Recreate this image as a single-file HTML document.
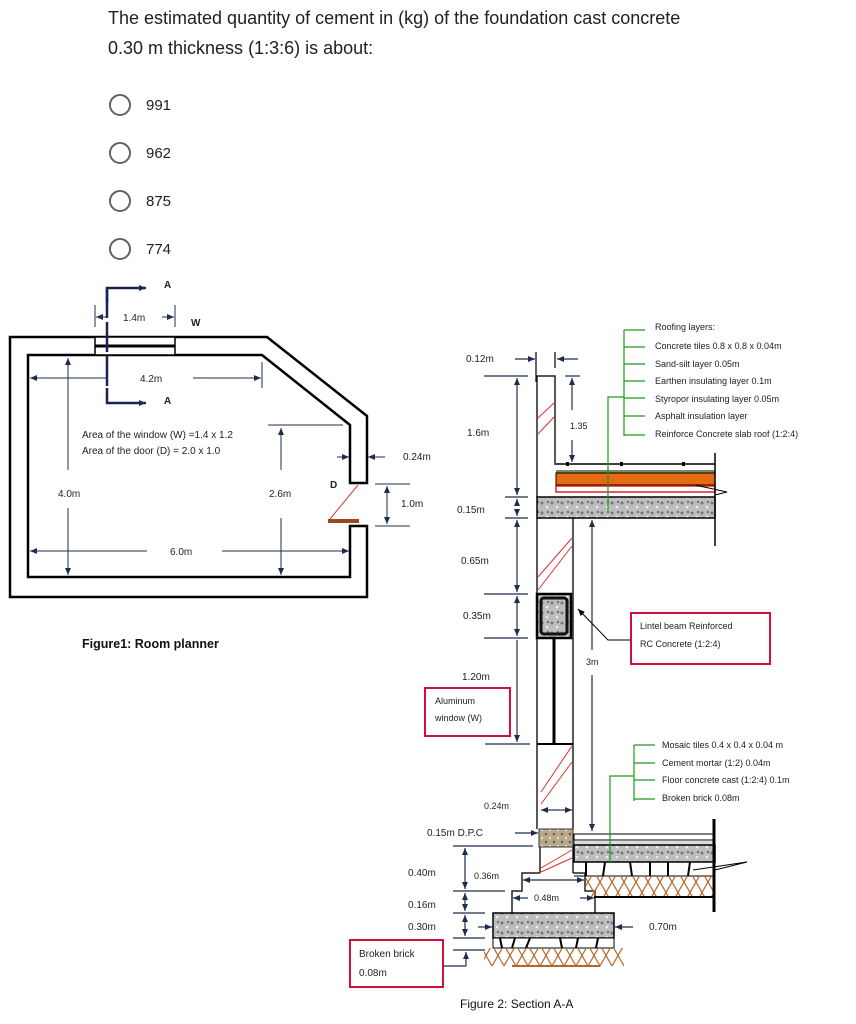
<!DOCTYPE html>
<html><head><meta charset="utf-8"><style>
body{margin:0;background:#fff;width:856px;height:1024px;overflow:hidden}
svg{display:block}
text{font-family:"Liberation Sans",sans-serif}
</style></head><body>
<svg width="856" height="1024" viewBox="0 0 856 1024" xmlns="http://www.w3.org/2000/svg">
<defs>
<marker id="ar" markerWidth="8" markerHeight="8" refX="7" refY="4" orient="auto" markerUnits="userSpaceOnUse"><path d="M0,1 L7,4 L0,7z" fill="#1f2d4d"/></marker>
<marker id="ab" markerWidth="8" markerHeight="8" refX="7" refY="4" orient="auto" markerUnits="userSpaceOnUse"><path d="M0,1 L7,4 L0,7z" fill="#000"/></marker>
<pattern id="gr" width="10" height="10" patternUnits="userSpaceOnUse"><rect width="10" height="10" fill="#bdbdbd"/><circle cx="2" cy="3" r="1.5" fill="#777"/><circle cx="7" cy="7" r="1.3" fill="#eee"/><circle cx="8" cy="2" r="1" fill="#555"/></pattern>
<pattern id="dpc" width="8" height="8" patternUnits="userSpaceOnUse"><rect width="8" height="8" fill="#b8a98c"/><circle cx="2" cy="2" r="1.3" fill="#6f6250"/><circle cx="6" cy="6" r="1.2" fill="#e4dccb"/></pattern>
<pattern id="earth" width="24" height="21" patternUnits="userSpaceOnUse"><path d="M0,21 L12,0 L24,21 M0,0 L12,21 L24,0" stroke="#b5652a" stroke-width="1.2" fill="none"/></pattern>
</defs>

<text x="108" y="24" font-size="18" fill="#202124">The estimated quantity of cement in (kg) of the foundation cast concrete</text>
<text x="108" y="54" font-size="18" fill="#202124">0.30 m thickness (1:3:6) is about:</text>
<g fill="none" stroke="#5f6368" stroke-width="2">
<circle cx="120" cy="105" r="10"/><circle cx="120" cy="153" r="10"/><circle cx="120" cy="201" r="10"/><circle cx="120" cy="249" r="10"/></g>
<g font-size="15" fill="#202124"><text x="146" y="110">991</text><text x="146" y="158">962</text><text x="146" y="206">875</text><text x="146" y="254">774</text></g>

<g stroke="#000" stroke-width="2.5" fill="none">
<path d="M367,483 L367,416 L267,337 L10,337 L10,597 L367,597 L367,526 L350,526 L350,577 L28,577 L28,355 L262,355 L350,425 L350,483 Z"/>
</g>
<rect x="95" y="337" width="80" height="18" fill="#fff" stroke="#000" stroke-width="1.5"/>
<line x1="95" y1="346" x2="175" y2="346" stroke="#000" stroke-width="3"/>
<line x1="107" y1="288" x2="107" y2="388" stroke="#1a2350" stroke-width="2.5" stroke-dasharray="30,4"/>
<path d="M107,303 L107,288 L146,288" stroke="#1a2350" stroke-width="2.5" fill="none" marker-end="url(#ar)"/>
<path d="M107,388 L107,403 L146,403" stroke="#1a2350" stroke-width="2.5" fill="none" marker-end="url(#ar)"/>
<g font-size="10" fill="#222" font-weight="bold"><text x="164" y="288">A</text><text x="164" y="404">A</text><text x="191" y="326">W</text><text x="330" y="488">D</text></g>
<g stroke="#1f2d4d" stroke-width="1" fill="none">
<line x1="95" y1="305" x2="95" y2="327"/><line x1="175" y1="305" x2="175" y2="327"/>
<line x1="108" y1="317" x2="96" y2="317" marker-end="url(#ar)"/><line x1="162" y1="317" x2="174" y2="317" marker-end="url(#ar)"/>
<line x1="108" y1="378" x2="30" y2="378" marker-end="url(#ar)"/><line x1="193" y1="378" x2="261" y2="378" marker-end="url(#ar)"/>
<line x1="262" y1="362" x2="262" y2="388"/>
<line x1="68" y1="470" x2="68" y2="358" marker-end="url(#ar)"/><line x1="68" y1="508" x2="68" y2="575" marker-end="url(#ar)"/>
<line x1="268" y1="425" x2="343" y2="425"/>
<line x1="281" y1="470" x2="281" y2="428" marker-end="url(#ar)"/><line x1="281" y1="518" x2="281" y2="575" marker-end="url(#ar)"/>
<line x1="147" y1="551" x2="30" y2="551" marker-end="url(#ar)"/><line x1="222" y1="551" x2="349" y2="551" marker-end="url(#ar)"/>
<line x1="337" y1="457" x2="349" y2="457" marker-end="url(#ar)"/><line x1="385" y1="457" x2="368" y2="457" marker-end="url(#ar)"/>
<line x1="375" y1="484" x2="410" y2="484"/><line x1="375" y1="526" x2="410" y2="526"/>
<line x1="387" y1="505" x2="387" y2="486" marker-end="url(#ar)"/><line x1="387" y1="505" x2="387" y2="524" marker-end="url(#ar)"/>
</g>
<line x1="358" y1="485" x2="330" y2="519" stroke="#d33" stroke-width="1"/>
<rect x="328" y="519" width="31" height="4" fill="#a0461c"/>
<g font-size="10" fill="#222">
<text x="123" y="321">1.4m</text><text x="140" y="382">4.2m</text>
<text x="82" y="438">Area of the window (W) =1.4 x 1.2</text><text x="82" y="454">Area of the door (D) = 2.0 x 1.0</text>
<text x="58" y="497">4.0m</text><text x="269" y="497">2.6m</text><text x="170" y="555">6.0m</text>
<text x="403" y="460">0.24m</text><text x="401" y="507">1.0m</text></g>
<text x="82" y="648" font-size="12.5" fill="#111" font-weight="bold">Figure1: Room planner</text>

<g stroke="#222" stroke-width="1.5" fill="none">
<path d="M537,497 L537,376 L555,376 L555,465"/>
<line x1="537" y1="518" x2="537" y2="829"/><line x1="573" y1="518" x2="573" y2="829"/>
<line x1="540" y1="847" x2="540" y2="873"/><line x1="573" y1="847" x2="573" y2="873"/>
<path d="M540,873 L522,873 L522,891 L512,891 L512,913"/>
<path d="M573,873 L585,873 L585,891 L595,891 L595,913"/>
</g>
<line x1="554" y1="638" x2="554" y2="744" stroke="#000" stroke-width="3"/>
<line x1="537" y1="744" x2="573" y2="744" stroke="#000" stroke-width="2"/>
<g stroke="#e03030" stroke-width="1" fill="none">
<line x1="538" y1="418" x2="555" y2="402"/><line x1="538" y1="434" x2="555" y2="416"/>
<line x1="538" y1="577" x2="572" y2="538"/><line x1="538" y1="590" x2="572" y2="546"/>
<line x1="541" y1="792" x2="572" y2="746"/><line x1="541" y1="804" x2="572" y2="762"/>
<line x1="541" y1="868" x2="572" y2="850"/><line x1="541" y1="872" x2="572" y2="858"/>
</g>
<line x1="556" y1="464" x2="715" y2="464" stroke="#000" stroke-width="1.5"/>
<rect x="566" y="462" width="3" height="4" fill="#000"/><rect x="620" y="462" width="3" height="4" fill="#000"/><rect x="682" y="462" width="3" height="4" fill="#000"/>
<rect x="556" y="470" width="159" height="3" fill="#7a8a66"/>
<rect x="556" y="473" width="159" height="12" fill="#e56b13" stroke="#000" stroke-width="1"/>
<rect x="556" y="486" width="159" height="6" fill="#fff" stroke="#e02020" stroke-width="1.5"/>
<path d="M695,485 L727,492 L715,495" stroke="#000" fill="none" stroke-width="1"/>
<rect x="537" y="497" width="178" height="21" fill="url(#gr)" stroke="#000" stroke-width="1.5"/>
<line x1="715" y1="453" x2="715" y2="546" stroke="#000" stroke-width="1.5"/>
<rect x="537" y="594" width="34" height="44" fill="url(#gr)" stroke="#000" stroke-width="2.5"/>
<rect x="541" y="598" width="26" height="36" fill="none" stroke="#111" stroke-width="3" rx="3"/>
<rect x="539" y="829" width="34" height="18" fill="url(#dpc)" stroke="#333"/>
<rect x="574" y="834" width="141" height="6" fill="#fff" stroke="#000"/>
<rect x="574" y="840" width="141" height="5" fill="#ddd" stroke="#000" stroke-width="0.8"/>
<rect x="574" y="845" width="141" height="17" fill="url(#gr)" stroke="#000" stroke-width="1.5"/>
<g stroke="#000" stroke-width="2"><line x1="586" y1="862" x2="586" y2="876"/><line x1="605" y1="862" x2="603" y2="876"/><line x1="630" y1="862" x2="632" y2="876"/><line x1="650" y1="862" x2="650" y2="876"/><line x1="668" y1="862" x2="668" y2="876"/><line x1="690" y1="862" x2="688" y2="876"/></g>
<line x1="574" y1="876" x2="713" y2="876" stroke="#000"/>
<rect x="586" y="876" width="127" height="21" fill="url(#earth)"/>
<line x1="594" y1="897" x2="713" y2="897" stroke="#000" stroke-width="2"/>
<line x1="714" y1="819" x2="714" y2="912" stroke="#000" stroke-width="3"/>
<path d="M693,870 L747,862 L715,870" stroke="#000" fill="none"/>
<rect x="493" y="913" width="121" height="25" fill="url(#gr)" stroke="#000" stroke-width="1.5"/>
<rect x="493" y="938" width="121" height="10" fill="#fff" stroke="#000"/>
<g stroke="#000" stroke-width="2"><line x1="500" y1="938" x2="502" y2="948"/><line x1="515" y1="938" x2="512" y2="948"/><line x1="530" y1="938" x2="526" y2="948"/><line x1="560" y1="938" x2="562" y2="948"/><line x1="578" y1="938" x2="576" y2="948"/><line x1="598" y1="938" x2="596" y2="948"/></g>
<rect x="484" y="948" width="140" height="18" fill="url(#earth)"/>
<line x1="512" y1="966" x2="600" y2="966" stroke="#b5652a" stroke-width="2"/>
<g stroke="#1f2d4d" stroke-width="1.2" fill="none">
<line x1="484" y1="376" x2="528" y2="376"/><line x1="565" y1="376" x2="580" y2="376"/>
<line x1="517" y1="436" x2="517" y2="378" marker-end="url(#ar)"/><line x1="517" y1="436" x2="517" y2="495" marker-end="url(#ar)"/>
<line x1="505" y1="497" x2="528" y2="497"/><line x1="505" y1="518" x2="528" y2="518"/>
<line x1="517" y1="505" x2="517" y2="499" marker-end="url(#ar)"/><line x1="517" y1="510" x2="517" y2="516" marker-end="url(#ar)"/>
<line x1="517" y1="556" x2="517" y2="520" marker-end="url(#ar)"/><line x1="517" y1="556" x2="517" y2="592" marker-end="url(#ar)"/>
<line x1="484" y1="594" x2="528" y2="594"/><line x1="484" y1="638" x2="528" y2="638"/>
<line x1="517" y1="616" x2="517" y2="596" marker-end="url(#ar)"/><line x1="517" y1="616" x2="517" y2="636" marker-end="url(#ar)"/>
<line x1="517" y1="640" x2="517" y2="742" marker-end="url(#ar)"/>
<line x1="485" y1="744" x2="530" y2="744"/>
<line x1="536" y1="352" x2="536" y2="382" stroke="#000"/><line x1="555" y1="352" x2="555" y2="368" stroke="#000"/>
<line x1="515" y1="359" x2="535" y2="359" marker-end="url(#ar)"/><line x1="578" y1="359" x2="557" y2="359" marker-end="url(#ar)"/>
<line x1="572" y1="410" x2="572" y2="378" marker-end="url(#ar)"/><line x1="572" y1="440" x2="572" y2="462" marker-end="url(#ar)"/>
<line x1="592" y1="650" x2="592" y2="520" marker-end="url(#ar)"/><line x1="592" y1="675" x2="592" y2="831" marker-end="url(#ar)"/>
<line x1="556" y1="810" x2="541" y2="810" marker-end="url(#ar)"/><line x1="556" y1="810" x2="572" y2="810" marker-end="url(#ar)"/>
<line x1="515" y1="833" x2="538" y2="833" marker-end="url(#ar)"/>
<line x1="453" y1="846" x2="533" y2="846"/><line x1="453" y1="891" x2="505" y2="891"/><line x1="453" y1="913" x2="485" y2="913"/><line x1="453" y1="938" x2="485" y2="938"/><line x1="453" y1="950" x2="485" y2="950"/>
<line x1="465" y1="868" x2="465" y2="848" marker-end="url(#ar)"/><line x1="465" y1="868" x2="465" y2="889" marker-end="url(#ar)"/>
<line x1="465" y1="902" x2="465" y2="893" marker-end="url(#ar)"/><line x1="465" y1="902" x2="465" y2="911" marker-end="url(#ar)"/>
<line x1="465" y1="925" x2="465" y2="915" marker-end="url(#ar)"/><line x1="465" y1="925" x2="465" y2="936" marker-end="url(#ar)"/>
<line x1="443" y1="966" x2="466" y2="966"/><line x1="466" y1="966" x2="466" y2="952" marker-end="url(#ar)"/>
<line x1="553" y1="880" x2="523" y2="880" marker-end="url(#ar)"/><line x1="553" y1="880" x2="584" y2="880" marker-end="url(#ar)"/>
<line x1="528" y1="898" x2="513" y2="898" marker-end="url(#ar)"/><line x1="580" y1="898" x2="594" y2="898" marker-end="url(#ar)"/>
<line x1="478" y1="927" x2="492" y2="927" marker-end="url(#ar)"/><line x1="633" y1="927" x2="615" y2="927" marker-end="url(#ar)"/>
</g>
<path d="M630,640 L608,640 L578,609" stroke="#000" fill="none" marker-end="url(#ab)"/>
<g stroke="#1a9a1a" stroke-width="1.2" fill="none">
<line x1="624" y1="330" x2="624" y2="436"/>
<path d="M624,330H645M624,347H645M624,364H645M624,381H645M624,398H645M624,416H645M624,435H645"/>
<path d="M624,397H608V510"/>
<line x1="634" y1="745" x2="634" y2="801"/>
<path d="M634,745H655M634,763H655M634,780H655M634,799H655"/>
<path d="M634,776H610V862"/>
</g>
<g font-size="10" fill="#222">
<text x="466" y="362">0.12m</text><text x="467" y="436">1.6m</text><text x="570" y="429" font-size="9">1.35</text>
<text x="457" y="513">0.15m</text><text x="461" y="564">0.65m</text><text x="463" y="619">0.35m</text><text x="462" y="680">1.20m</text>
<text x="586" y="665" font-size="9">3m</text>
<text x="484" y="809" font-size="9">0.24m</text><text x="427" y="836">0.15m D.P.C</text>
<text x="408" y="876">0.40m</text><text x="474" y="879" font-size="9">0.36m</text><text x="534" y="901" font-size="9">0.48m</text>
<text x="408" y="908">0.16m</text><text x="408" y="930">0.30m</text><text x="649" y="930">0.70m</text>
</g>
<g font-size="9" fill="#222">
<text x="655" y="330">Roofing layers:</text>
<text x="655" y="349">Concrete tiles 0.8 x 0.8 x 0.04m</text>
<text x="655" y="367">Sand-silt layer 0.05m</text>
<text x="655" y="384">Earthen insulating layer 0.1m</text>
<text x="655" y="402">Styropor insulating layer 0.05m</text>
<text x="655" y="419">Asphalt insulation layer</text>
<text x="655" y="437">Reinforce Concrete slab roof (1:2:4)</text>
<text x="662" y="748">Mosaic tiles 0.4 x 0.4 x 0.04 m</text>
<text x="662" y="766">Cement mortar (1:2) 0.04m</text>
<text x="662" y="783">Floor concrete cast (1:2:4) 0.1m</text>
<text x="662" y="801">Broken brick 0.08m</text>
</g>
<rect x="631" y="613" width="139" height="51" fill="none" stroke="#d0103a" stroke-width="2"/>
<text x="640" y="629" font-size="9" fill="#222">Lintel beam Reinforced</text>
<text x="640" y="647" font-size="9" fill="#222">RC Concrete (1:2:4)</text>
<rect x="425" y="688" width="85" height="48" fill="none" stroke="#d0103a" stroke-width="2"/>
<text x="435" y="704" font-size="9" fill="#222">Aluminum</text>
<text x="435" y="721" font-size="9" fill="#222">window (W)</text>
<rect x="350" y="940" width="93" height="47" fill="none" stroke="#d0103a" stroke-width="2"/>
<text x="359" y="957" font-size="10" fill="#222">Broken brick</text>
<text x="359" y="976" font-size="10" fill="#222">0.08m</text>
<text x="460" y="1008" font-size="12" fill="#111">Figure 2: Section A-A</text>
</svg>
</body></html>
